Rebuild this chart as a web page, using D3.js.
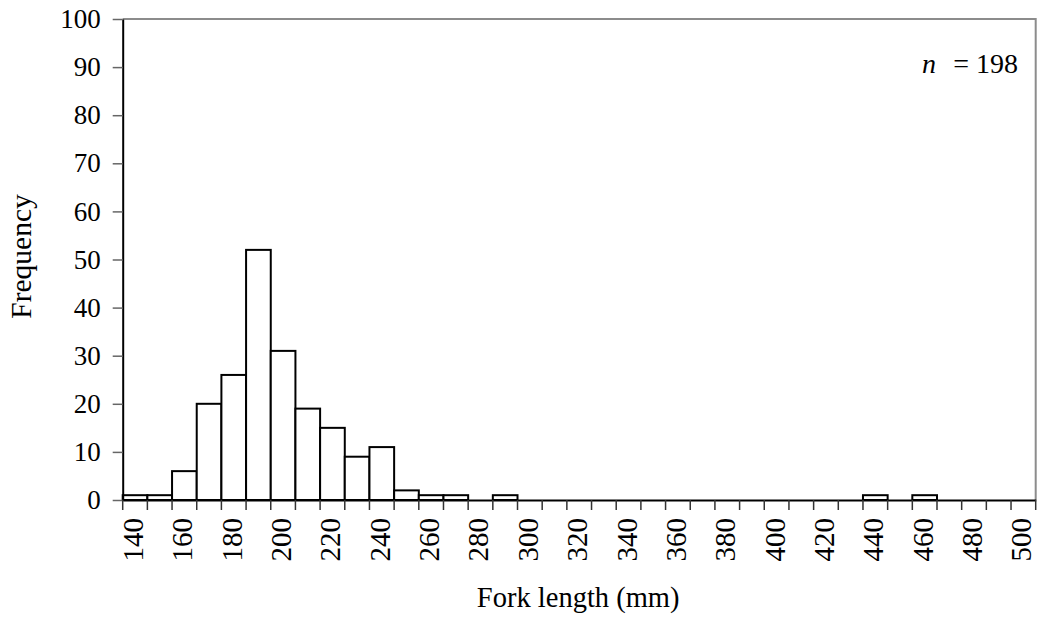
<!DOCTYPE html>
<html>
<head>
<meta charset="utf-8">
<script src="https://cdn.jsdelivr.net/npm/d3@7/dist/d3.min.js"></script>
<style>
  html, body { margin: 0; padding: 0; background: #fff; }
  svg { display: block; font-family: 'Liberation Serif', 'Times New Roman', serif; }
  svg text { font-family: 'Liberation Serif', 'Times New Roman', serif !important; }
</style>
</head>
<body>
<svg id="chart" width="1040" height="618"></svg>
<script>
// Fork length bins (mm) and the number of fish in each bin
const categories = [140, 150, 160, 170, 180, 190, 200, 210, 220, 230,
                    240, 250, 260, 270, 280, 290, 300, 310, 320, 330,
                    340, 350, 360, 370, 380, 390, 400, 410, 420, 430,
                    440, 450, 460, 470, 480, 490, 500];
const counts = [1, 1, 6, 20, 26, 52, 31, 19, 15, 9,
                11, 2, 1, 1, 0, 1, 0, 0, 0, 0,
                0, 0, 0, 0, 0, 0, 0, 0, 0, 0,
                1, 0, 1, 0, 0, 0, 0];
const xTickLabels = [140, 160, 180, 200, 220, 240, 260, 280, 300, 320,
                     340, 360, 380, 400, 420, 440, 460, 480, 500];
const yTicks = [0, 10, 20, 30, 40, 50, 60, 70, 80, 90, 100];
const sampleSize = 198;

const bins = categories.map((c, i) => ({ bin: c, n: counts[i] }));

const svg = d3.select("#chart");
const plot = { left: 122.7, right: 1035.7, top: 19, bottom: 500 };

const x = d3.scaleBand().domain(categories).range([plot.left, plot.right]).paddingInner(0).paddingOuter(0);
const y = d3.scaleLinear().domain([0, 100]).range([plot.bottom, plot.top]);

// Plot-area frame (top and right edges)
svg.append("path")
  .attr("d", `M${plot.left},${plot.top}H${plot.right}V${plot.bottom}`)
  .attr("fill", "none")
  .attr("stroke", "#8c8c8c")
  .attr("stroke-width", 2);

// Bars
svg.append("g")
  .selectAll("rect")
  .data(bins.filter(d => d.n > 0))
  .join("rect")
  .attr("x", d => x(d.bin))
  .attr("y", d => y(d.n))
  .attr("width", x.bandwidth())
  .attr("height", d => y(0) - y(d.n))
  .attr("fill", "#fff")
  .attr("stroke", "#000")
  .attr("stroke-width", 2);

// Y axis
const yAxis = svg.append("g")
  .attr("transform", `translate(${plot.left},0)`)
  .call(d3.axisLeft(y).tickValues(yTicks).tickSize(10).tickPadding(12).tickSizeOuter(0));
yAxis.attr("font-family", null);
yAxis.select(".domain").attr("stroke", "#000").attr("stroke-width", 2);
yAxis.selectAll(".tick line").attr("stroke", "#666").attr("stroke-width", 1.5);
yAxis.selectAll(".tick text")
  .attr("font-size", 27)
  .attr("fill", "#000");

// X axis: tick marks at bin boundaries, labels at every other bin centre
const xAxis = svg.append("g")
  .attr("transform", `translate(0,${plot.bottom})`)
  .call(d3.axisBottom(x).tickValues(xTickLabels).tickSize(0).tickSizeOuter(0));
xAxis.attr("font-family", null);
xAxis.select(".domain").attr("stroke", "#000").attr("stroke-width", 2);
xAxis.selectAll(".tick text")
  .attr("font-size", 29)
  .attr("fill", "#000")
  .attr("text-anchor", "end")
  .attr("dy", null)
  .attr("y", 0)
  .attr("transform", "translate(-2,18) rotate(-90) translate(0,10)");

const edges = categories.map(c => x(c)).concat([x(categories[categories.length - 1]) + x.bandwidth()]);
svg.append("g")
  .selectAll("line")
  .data(edges)
  .join("line")
  .attr("x1", d => d).attr("x2", d => d)
  .attr("y1", plot.bottom).attr("y2", plot.bottom + 10)
  .attr("stroke", "#333")
  .attr("stroke-width", 1.5);

// Axis titles
svg.append("text")
  .attr("x", (plot.left + plot.right) / 2 - 1)
  .attr("y", 607)
  .attr("text-anchor", "middle")
  .attr("font-size", 28.5)
  .text("Fork length (mm)");

svg.append("text")
  .attr("transform", `translate(31,${(plot.top + plot.bottom) / 2 - 3}) rotate(-90)`)
  .attr("text-anchor", "middle")
  .attr("font-size", 29.5)
  .text("Frequency");

// Sample size annotation
svg.append("text")
  .attr("x", 922)
  .attr("y", 73)
  .attr("font-size", 28)
  .attr("font-style", "italic")
  .text("n");
svg.append("text")
  .attr("x", 1018)
  .attr("y", 73)
  .attr("text-anchor", "end")
  .attr("font-size", 28)
  .text("= " + sampleSize);
</script>
</body>
</html>
